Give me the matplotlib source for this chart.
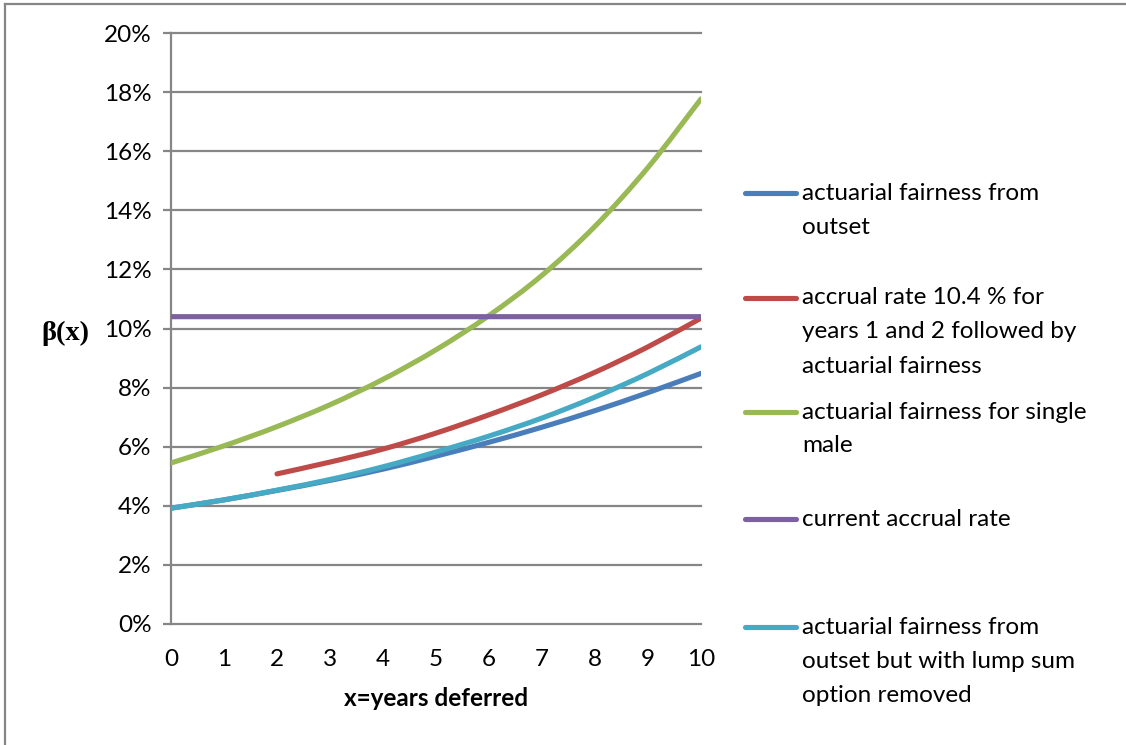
import matplotlib
matplotlib.use("Agg")
import matplotlib.pyplot as plt
from matplotlib.lines import Line2D
from matplotlib.path import Path
from matplotlib.patches import PathPatch
from matplotlib.ticker import FuncFormatter

# Years deferred and deferral increments beta(x), in percent
years = [0, 1, 2, 3, 4, 5, 6, 7, 8, 9, 10]
fair_outset = [3.92, 4.20, 4.52, 4.86, 5.24, 5.68, 6.15, 6.66, 7.22, 7.83, 8.48]
accrual_then_fair_years = [2, 3, 4, 5, 6, 7, 8, 9, 10]
accrual_then_fair = [5.08, 5.48, 5.92, 6.46, 7.08, 7.76, 8.52, 9.38, 10.35]
fair_single_male = [5.45, 6.03, 6.68, 7.42, 8.28, 9.28, 10.44, 11.80, 13.46, 15.45, 17.77]
current_rate = [10.4] * 11
fair_no_lump_sum = [3.92, 4.20, 4.53, 4.89, 5.32, 5.82, 6.36, 6.97, 7.68, 8.48, 9.38]

y_ticks = [0, 2, 4, 6, 8, 10, 12, 14, 16, 18, 20]

series = [
    (years, fair_outset, "#4A7EBB", ["actuarial fairness from", "outset"]),
    (accrual_then_fair_years, accrual_then_fair, "#BE4B48",
     ["accrual rate 10.4 % for", "years 1 and 2 followed by", "actuarial fairness"]),
    (years, fair_single_male, "#98B954", ["actuarial fairness for single", "male"]),
    (years, current_rate, "#7D60A0", ["current accrual rate"]),
    (years, fair_no_lump_sum, "#46AAC5",
     ["actuarial fairness from", "outset but with lump sum", "option removed"]),
]


def smooth_path(xs, ys):
    """Smoothed line through the points (Catmull-Rom as cubic Bezier)."""
    pts = list(zip(xs, ys))
    n = len(pts)
    verts = [pts[0]]
    codes = [Path.MOVETO]
    for i in range(n - 1):
        p0 = pts[i - 1] if i > 0 else pts[i]
        p1, p2 = pts[i], pts[i + 1]
        p3 = pts[i + 2] if i + 2 < n else pts[i + 1]
        c1 = (p1[0] + (p2[0] - p0[0]) / 6, p1[1] + (p2[1] - p0[1]) / 6)
        c2 = (p2[0] - (p3[0] - p1[0]) / 6, p2[1] - (p3[1] - p1[1]) / 6)
        verts += [c1, c2, p2]
        codes += [Path.CURVE4] * 3
    return Path(verts, codes)


W, H = 1126, 745
fig = plt.figure(figsize=(W / 100, H / 100), dpi=100)
font = "Lato"
fs = 17.5

ax = fig.add_axes([171 / W, 1 - 624 / H, 530 / W, 591 / H])
grid_c = "#868686"

for xs, ys, col, _ in series:
    ax.add_patch(PathPatch(smooth_path(xs, ys), facecolor="none", edgecolor=col,
                           lw=3.7, capstyle="round", joinstyle="round", zorder=3))

ax.set_xlim(0, 10)
ax.set_ylim(0, 20)
ax.set_yticks(y_ticks)
ax.set_xticks(years)
ax.yaxis.set_major_formatter(FuncFormatter(lambda v, p: f"{v:.0f}%"))
for y in y_ticks:
    ax.axhline(y, color=grid_c, lw=1.6, zorder=1, clip_on=False)

for s in ["top", "right", "bottom"]:
    ax.spines[s].set_visible(False)
ax.spines["left"].set_color(grid_c)
ax.spines["left"].set_linewidth(1.6)
ax.tick_params(axis="y", direction="out", length=6, width=1.6, color=grid_c,
               pad=8, labelsize=fs)
ax.tick_params(axis="x", length=0, pad=18, labelsize=fs)
for lab in ax.get_xticklabels() + ax.get_yticklabels():
    lab.set_fontfamily(font)
    lab.set_color("black")

ax.set_xlabel("x=years deferred", fontsize=fs, fontweight="bold",
              fontfamily=font, labelpad=12)
ax.set_ylabel("β(x)", fontsize=20.5, fontweight="bold", rotation=0,
              fontfamily="Liberation Serif", va="center", ha="center")
ax.yaxis.set_label_coords(-0.2, 0.492)

# Legend drawn at the right of the plot
entry_y = [193, 298, 412, 519, 627]
pitch = 34
for (xs, ys, col, lines), y0 in zip(series, entry_y):
    fig.add_artist(Line2D([745 / W, 796 / W], [1 - y0 / H, 1 - y0 / H],
                          color=col, lw=3.7, solid_capstyle="round"))
    for i, txt in enumerate(lines):
        fig.text(802 / W, 1 - (y0 + i * pitch) / H, txt, fontsize=fs,
                 fontfamily=font, va="center", ha="left")

# Chart area border
fig.add_artist(Line2D([5 / W, 5 / W], [0, 1 - 4 / H], color=grid_c, lw=1.6))
fig.add_artist(Line2D([5 / W, 1], [1 - 4 / H, 1 - 4 / H], color=grid_c, lw=1.6))

fig.savefig("out.png", dpi=100)
